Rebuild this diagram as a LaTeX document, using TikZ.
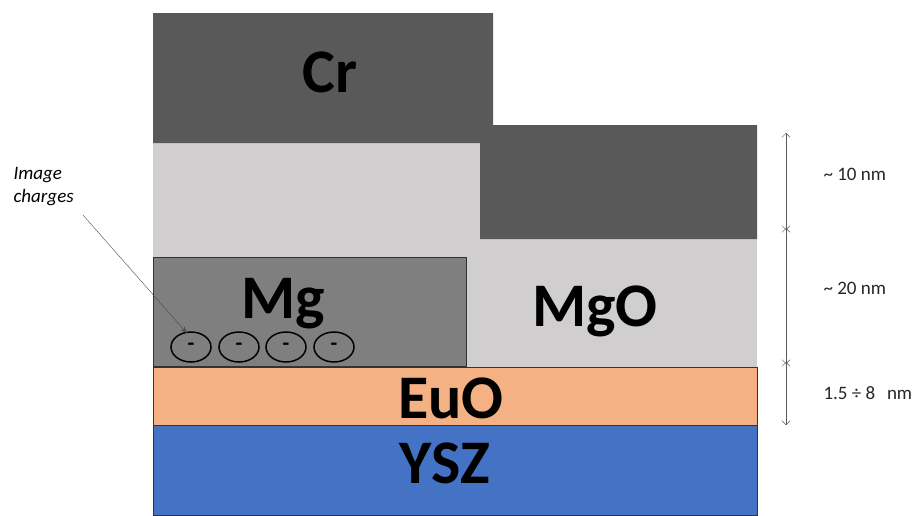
\documentclass[tikz,border=0pt]{standalone}
\usepackage{fontspec}
\setmainfont{Carlito}
\usetikzlibrary{arrows.meta,shapes.geometric}
\definecolor{crgrey}{HTML}{595959}
\definecolor{mgogrey}{HTML}{D0CECE}
\definecolor{mggrey}{HTML}{7F7F7F}
\definecolor{euo}{HTML}{F4B183}
\definecolor{ysz}{HTML}{4472C4}
\begin{document}
\begin{tikzpicture}[x=1pt, y=-1pt,
            layer/.style={anchor=base, font=\bfseries\fontsize{62}{62}\selectfont},
            charge/.style={draw, line width=1.5pt, ellipse, minimum width=40pt, minimum height=30pt,
                inner sep=0pt, font=\bfseries\fontsize{22}{22}\selectfont},
            dim/.style={{Straight Barb[length=4pt,width=8pt]}-{Straight Barb[length=4pt,width=8pt]},
                color=black!65, thin},
            dimlabel/.style={anchor=west, font=\fontsize{19}{22}\selectfont, color=black!85}
        ]
            \useasboundingbox (0,0) rectangle (916,515);

            % MgO and Cr
            \fill[mgogrey] (153,143) rectangle (757,367);
            \fill[crgrey] (153,13) -- (493,13) -- (493,125) -- (757,125) -- (757,239)
                -- (480,239) -- (480,143) -- (153,143) -- cycle;

            % Mg, EuO, YSZ - drawn with border
            \filldraw[fill=mggrey, draw=black!80] (153,257) rectangle (466,366);
            \filldraw[fill=euo, draw=black!80] (153,367) rectangle (757,425);
            \filldraw[fill=ysz, draw=black!80] (153,425) rectangle (757,515);

            \node[layer] (cr) at (330,92) {Cr};
            \node[layer] (mg) at (283,318) {Mg};
            \node[layer] (mgo) at (595,326) {MgO};
            \node[layer] (eu) at (451,418) {EuO};
            \node[layer] (ys) at (445,483) {YSZ};

            % image charges
            \node[charge] (q1) at (191,347) {-};
            \node[charge] (q2) at (239,347) {-};
            \node[charge] (q3) at (286,347) {-};
            \node[charge] (q4) at (334,347) {-};

            \node[anchor=west, align=left, font=\itshape\fontsize{19}{23}\selectfont] (imgtxt)
                at (10,187) {Image\\charges};
            \coordinate (imgfrom) at (83,215);
            \draw[-{Stealth[length=7pt,width=5pt]}, color=black!70, thin] (imgfrom) -- ([xshift=-4pt,yshift=-2pt]q1.north);

            % thickness marks
            \coordinate (d0) at (786,133);
            \coordinate (d1) at (786,230);
            \coordinate (d2) at (786,364);
            \coordinate (d3) at (786,425);
            \draw[dim] (d0) -- (d1);
            \draw[dim] ([yshift=2pt]d1) -- (d2);
            \draw[dim] ([yshift=2pt]d2) -- (d3);

            \node[dimlabel] (t10) at (820,174) {\textasciitilde\ 10 nm};
            \node[dimlabel] (t20) at (820,288) {\textasciitilde\ 20 nm};
            \node[dimlabel] (t8) at (820,393) {1.5 ÷ 8\ \ \,nm};
        \end{tikzpicture}
\end{document}
